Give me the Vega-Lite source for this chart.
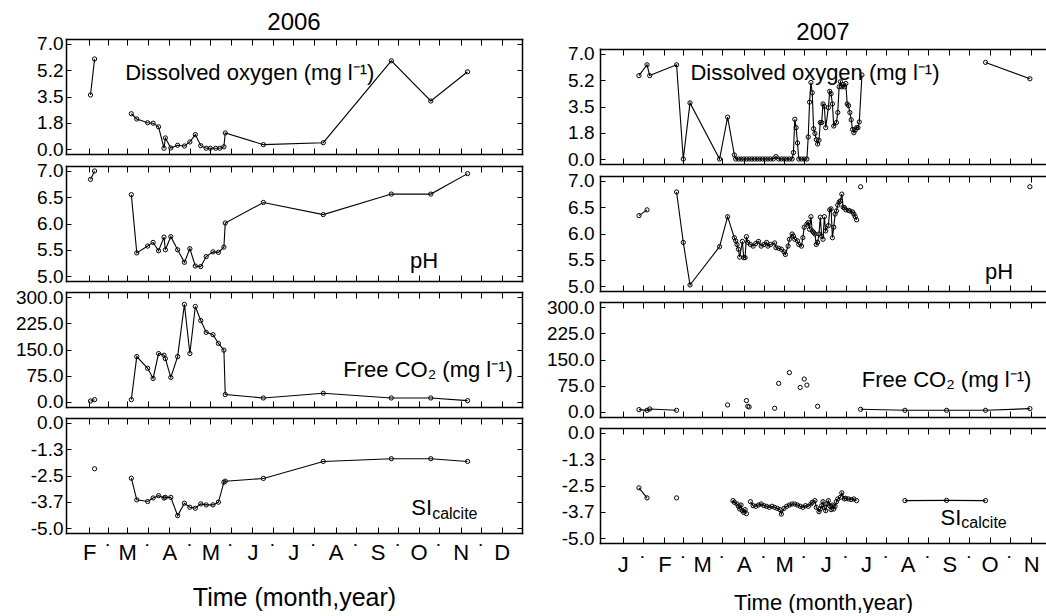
{
  "$schema": "https://vega.github.io/schema/vega-lite/v6.json",
  "padding": {"left": 15, "top": 8, "right": 0, "bottom": 0},
  "spacing": 23,
  "datasets": {
    "obs": [
      {"p":"DO06","d":"2006-02-02","v":3.6,"s":1},{"p":"DO06","d":"2006-02-05","v":6.0,"s":1},
      {"p":"DO06","d":"2006-03-04","v":2.35,"s":2},{"p":"DO06","d":"2006-03-08","v":2.0,"s":2},{"p":"DO06","d":"2006-03-16","v":1.75,"s":2},{"p":"DO06","d":"2006-03-20","v":1.72,"s":2},{"p":"DO06","d":"2006-03-24","v":1.48,"s":2},{"p":"DO06","d":"2006-03-28","v":0.05,"s":2},{"p":"DO06","d":"2006-03-29","v":0.74,"s":2},{"p":"DO06","d":"2006-04-02","v":0.07,"s":2},{"p":"DO06","d":"2006-04-07","v":0.25,"s":2},{"p":"DO06","d":"2006-04-12","v":0.2,"s":2},{"p":"DO06","d":"2006-04-16","v":0.47,"s":2},{"p":"DO06","d":"2006-04-20","v":0.96,"s":2},{"p":"DO06","d":"2006-04-24","v":0.22,"s":2},{"p":"DO06","d":"2006-04-28","v":0.05,"s":2},{"p":"DO06","d":"2006-05-01","v":0.05,"s":2},{"p":"DO06","d":"2006-05-05","v":0.05,"s":2},{"p":"DO06","d":"2006-05-08","v":0.05,"s":2},{"p":"DO06","d":"2006-05-11","v":0.15,"s":2},{"p":"DO06","d":"2006-05-12","v":1.07,"s":2},{"p":"DO06","d":"2006-06-09","v":0.29,"s":2},{"p":"DO06","d":"2006-07-23","v":0.42,"s":2},{"p":"DO06","d":"2006-09-11","v":5.88,"s":2},{"p":"DO06","d":"2006-10-10","v":3.2,"s":2},{"p":"DO06","d":"2006-11-06","v":5.15,"s":2},

      {"p":"pH06","d":"2006-02-02","v":6.84,"s":1},{"p":"pH06","d":"2006-02-05","v":7.0,"s":1},
      {"p":"pH06","d":"2006-03-04","v":6.55,"s":2},{"p":"pH06","d":"2006-03-08","v":5.44,"s":2},{"p":"pH06","d":"2006-03-16","v":5.57,"s":2},{"p":"pH06","d":"2006-03-20","v":5.64,"s":2},{"p":"pH06","d":"2006-03-24","v":5.48,"s":2},{"p":"pH06","d":"2006-03-28","v":5.74,"s":2},{"p":"pH06","d":"2006-03-29","v":5.5,"s":2},{"p":"pH06","d":"2006-04-02","v":5.75,"s":2},{"p":"pH06","d":"2006-04-07","v":5.5,"s":2},{"p":"pH06","d":"2006-04-12","v":5.26,"s":2},{"p":"pH06","d":"2006-04-16","v":5.52,"s":2},{"p":"pH06","d":"2006-04-20","v":5.19,"s":2},{"p":"pH06","d":"2006-04-24","v":5.18,"s":2},{"p":"pH06","d":"2006-04-28","v":5.37,"s":2},{"p":"pH06","d":"2006-05-03","v":5.46,"s":2},{"p":"pH06","d":"2006-05-07","v":5.45,"s":2},{"p":"pH06","d":"2006-05-11","v":5.55,"s":2},{"p":"pH06","d":"2006-05-12","v":6.01,"s":2},{"p":"pH06","d":"2006-06-09","v":6.4,"s":2},{"p":"pH06","d":"2006-07-23","v":6.17,"s":2},{"p":"pH06","d":"2006-09-11","v":6.56,"s":2},{"p":"pH06","d":"2006-10-10","v":6.56,"s":2},{"p":"pH06","d":"2006-11-06","v":6.95,"s":2},

      {"p":"CO06","d":"2006-02-02","v":2.9,"s":1},{"p":"CO06","d":"2006-02-05","v":6.7,"s":1},
      {"p":"CO06","d":"2006-03-04","v":6.7,"s":2},{"p":"CO06","d":"2006-03-08","v":129.8,"s":2},{"p":"CO06","d":"2006-03-16","v":96.2,"s":2},{"p":"CO06","d":"2006-03-20","v":67.3,"s":2},{"p":"CO06","d":"2006-03-24","v":138.5,"s":2},{"p":"CO06","d":"2006-03-28","v":133.7,"s":2},{"p":"CO06","d":"2006-03-29","v":124.0,"s":2},{"p":"CO06","d":"2006-04-02","v":70.2,"s":2},{"p":"CO06","d":"2006-04-07","v":129.8,"s":2},{"p":"CO06","d":"2006-04-12","v":278.8,"s":2},{"p":"CO06","d":"2006-04-16","v":138.5,"s":2},{"p":"CO06","d":"2006-04-20","v":273.0,"s":2},{"p":"CO06","d":"2006-04-24","v":232.7,"s":2},{"p":"CO06","d":"2006-04-28","v":199.0,"s":2},{"p":"CO06","d":"2006-05-03","v":192.3,"s":2},{"p":"CO06","d":"2006-05-07","v":167.3,"s":2},{"p":"CO06","d":"2006-05-11","v":148.1,"s":2},{"p":"CO06","d":"2006-05-12","v":21.2,"s":2},{"p":"CO06","d":"2006-06-09","v":11.5,"s":2},{"p":"CO06","d":"2006-07-23","v":25.0,"s":2},{"p":"CO06","d":"2006-09-11","v":11.5,"s":2},{"p":"CO06","d":"2006-10-10","v":11.5,"s":2},{"p":"CO06","d":"2006-11-06","v":3.8,"s":2},

      {"p":"SI06","d":"2006-02-05","v":-2.18,"s":1},
      {"p":"SI06","d":"2006-03-04","v":-2.63,"s":2},{"p":"SI06","d":"2006-03-08","v":-3.66,"s":2},{"p":"SI06","d":"2006-03-16","v":-3.74,"s":2},{"p":"SI06","d":"2006-03-20","v":-3.57,"s":2},{"p":"SI06","d":"2006-03-24","v":-3.46,"s":2},{"p":"SI06","d":"2006-03-28","v":-3.57,"s":2},{"p":"SI06","d":"2006-03-29","v":-3.54,"s":2},{"p":"SI06","d":"2006-04-02","v":-3.54,"s":2},{"p":"SI06","d":"2006-04-07","v":-4.41,"s":2},{"p":"SI06","d":"2006-04-12","v":-3.82,"s":2},{"p":"SI06","d":"2006-04-16","v":-4.01,"s":2},{"p":"SI06","d":"2006-04-20","v":-4.06,"s":2},{"p":"SI06","d":"2006-04-24","v":-3.85,"s":2},{"p":"SI06","d":"2006-04-28","v":-3.9,"s":2},{"p":"SI06","d":"2006-05-03","v":-3.9,"s":2},{"p":"SI06","d":"2006-05-07","v":-3.77,"s":2},{"p":"SI06","d":"2006-05-11","v":-2.82,"s":2},{"p":"SI06","d":"2006-05-12","v":-2.77,"s":2},{"p":"SI06","d":"2006-06-09","v":-2.64,"s":2},{"p":"SI06","d":"2006-07-23","v":-1.83,"s":2},{"p":"SI06","d":"2006-09-11","v":-1.7,"s":2},{"p":"SI06","d":"2006-10-10","v":-1.7,"s":2},{"p":"SI06","d":"2006-11-06","v":-1.83,"s":2},

      {"p":"DO07","d":"2007-01-13","v":5.56,"s":1},{"p":"DO07","d":"2007-01-19","v":6.28,"s":1},{"p":"DO07","d":"2007-01-21","v":5.56,"s":1},{"p":"DO07","d":"2007-02-10","v":6.28,"s":1},{"p":"DO07","d":"2007-02-15","v":0,"s":1},{"p":"DO07","d":"2007-02-20","v":3.74,"s":1},{"p":"DO07","d":"2007-03-14","v":0,"s":1},{"p":"DO07","d":"2007-03-20","v":2.79,"s":1},{"p":"DO07","d":"2007-03-25","v":0.27,"s":1},
      {"p":"DO07","d":"2007-03-26","v":0,"s":1},{"p":"DO07","d":"2007-03-28","v":0,"s":1},{"p":"DO07","d":"2007-03-30","v":0,"s":1},{"p":"DO07","d":"2007-04-01","v":0,"s":1},{"p":"DO07","d":"2007-04-03","v":0,"s":1},{"p":"DO07","d":"2007-04-05","v":0,"s":1},{"p":"DO07","d":"2007-04-07","v":0,"s":1},{"p":"DO07","d":"2007-04-09","v":0,"s":1},{"p":"DO07","d":"2007-04-11","v":0,"s":1},{"p":"DO07","d":"2007-04-13","v":0,"s":1},{"p":"DO07","d":"2007-04-15","v":0,"s":1},{"p":"DO07","d":"2007-04-17","v":0,"s":1},{"p":"DO07","d":"2007-04-19","v":0,"s":1},{"p":"DO07","d":"2007-04-21","v":0,"s":1},{"p":"DO07","d":"2007-04-23","v":0,"s":1},{"p":"DO07","d":"2007-04-25","v":0.16,"s":1},{"p":"DO07","d":"2007-04-27","v":0,"s":1},{"p":"DO07","d":"2007-04-29","v":0,"s":1},{"p":"DO07","d":"2007-05-01","v":0,"s":1},{"p":"DO07","d":"2007-05-03","v":0,"s":1},{"p":"DO07","d":"2007-05-05","v":0,"s":1},{"p":"DO07","d":"2007-05-07","v":0,"s":1},
      {"p":"DO07","d":"2007-05-08","v":0.43,"s":1},{"p":"DO07","d":"2007-05-09","v":2.65,"s":1},{"p":"DO07","d":"2007-05-10","v":2.09,"s":1},{"p":"DO07","d":"2007-05-11","v":1.07,"s":1},{"p":"DO07","d":"2007-05-12","v":0,"s":1},{"p":"DO07","d":"2007-05-14","v":0,"s":1},{"p":"DO07","d":"2007-05-16","v":0,"s":1},{"p":"DO07","d":"2007-05-18","v":0,"s":1},
      {"p":"DO07","d":"2007-05-19","v":1.47,"s":1},{"p":"DO07","d":"2007-05-20","v":3.79,"s":1},{"p":"DO07","d":"2007-05-21","v":5.1,"s":1},{"p":"DO07","d":"2007-05-22","v":4.42,"s":1},{"p":"DO07","d":"2007-05-23","v":2.02,"s":1},{"p":"DO07","d":"2007-05-24","v":1.7,"s":1},{"p":"DO07","d":"2007-05-25","v":1.29,"s":1},{"p":"DO07","d":"2007-05-26","v":1.0,"s":1},{"p":"DO07","d":"2007-05-27","v":1.25,"s":1},{"p":"DO07","d":"2007-05-28","v":2.43,"s":1},{"p":"DO07","d":"2007-05-29","v":2.43,"s":1},{"p":"DO07","d":"2007-05-30","v":3.67,"s":1},{"p":"DO07","d":"2007-05-31","v":3.51,"s":1},
      {"p":"DO07","d":"2007-06-01","v":2.09,"s":1},{"p":"DO07","d":"2007-06-03","v":3.42,"s":1},{"p":"DO07","d":"2007-06-04","v":4.51,"s":1},{"p":"DO07","d":"2007-06-05","v":4.35,"s":1},{"p":"DO07","d":"2007-06-06","v":3.67,"s":1},{"p":"DO07","d":"2007-06-07","v":2.2,"s":1},{"p":"DO07","d":"2007-06-09","v":2.43,"s":1},{"p":"DO07","d":"2007-06-10","v":3.1,"s":1},{"p":"DO07","d":"2007-06-11","v":4.81,"s":1},{"p":"DO07","d":"2007-06-12","v":5.15,"s":1},{"p":"DO07","d":"2007-06-13","v":4.81,"s":1},{"p":"DO07","d":"2007-06-14","v":4.97,"s":1},{"p":"DO07","d":"2007-06-15","v":4.81,"s":1},{"p":"DO07","d":"2007-06-16","v":5.03,"s":1},{"p":"DO07","d":"2007-06-17","v":3.67,"s":1},{"p":"DO07","d":"2007-06-18","v":3.56,"s":1},{"p":"DO07","d":"2007-06-19","v":3.1,"s":1},{"p":"DO07","d":"2007-06-20","v":2.61,"s":1},{"p":"DO07","d":"2007-06-21","v":1.97,"s":1},{"p":"DO07","d":"2007-06-22","v":1.75,"s":1},{"p":"DO07","d":"2007-06-23","v":1.93,"s":1},{"p":"DO07","d":"2007-06-24","v":2.09,"s":1},{"p":"DO07","d":"2007-06-25","v":2.09,"s":1},{"p":"DO07","d":"2007-06-26","v":2.47,"s":1},{"p":"DO07","d":"2007-06-28","v":5.6,"s":1},
      {"p":"DO07","d":"2007-09-28","v":6.44,"s":2},{"p":"DO07","d":"2007-10-31","v":5.35,"s":2},

      {"p":"pH07","d":"2007-01-13","v":6.34,"s":1},{"p":"pH07","d":"2007-01-19","v":6.45,"s":1},
      {"p":"pH07","d":"2007-02-10","v":6.79,"s":2},{"p":"pH07","d":"2007-02-15","v":5.83,"s":2},{"p":"pH07","d":"2007-02-20","v":5.02,"s":2},{"p":"pH07","d":"2007-03-14","v":5.75,"s":2},{"p":"pH07","d":"2007-03-20","v":6.32,"s":2},
      {"p":"pH07","d":"2007-03-25","v":5.92,"s":2},{"p":"pH07","d":"2007-03-26","v":5.86,"s":2},{"p":"pH07","d":"2007-03-27","v":5.79,"s":2},{"p":"pH07","d":"2007-03-28","v":5.7,"s":2},{"p":"pH07","d":"2007-03-29","v":5.55,"s":2},{"p":"pH07","d":"2007-03-31","v":5.85,"s":2},{"p":"pH07","d":"2007-04-01","v":5.54,"s":2},{"p":"pH07","d":"2007-04-02","v":5.54,"s":2},{"p":"pH07","d":"2007-04-03","v":5.94,"s":2},{"p":"pH07","d":"2007-04-04","v":5.83,"s":2},{"p":"pH07","d":"2007-04-06","v":5.79,"s":2},{"p":"pH07","d":"2007-04-08","v":5.76,"s":2},{"p":"pH07","d":"2007-04-10","v":5.81,"s":2},{"p":"pH07","d":"2007-04-12","v":5.85,"s":2},{"p":"pH07","d":"2007-04-14","v":5.76,"s":2},{"p":"pH07","d":"2007-04-16","v":5.79,"s":2},{"p":"pH07","d":"2007-04-18","v":5.83,"s":2},{"p":"pH07","d":"2007-04-19","v":5.76,"s":2},{"p":"pH07","d":"2007-04-21","v":5.79,"s":2},{"p":"pH07","d":"2007-04-24","v":5.82,"s":2},{"p":"pH07","d":"2007-04-25","v":5.73,"s":2},{"p":"pH07","d":"2007-04-27","v":5.72,"s":2},{"p":"pH07","d":"2007-04-29","v":5.7,"s":2},
      {"p":"pH07","d":"2007-05-01","v":5.65,"s":2},{"p":"pH07","d":"2007-05-02","v":5.6,"s":2},{"p":"pH07","d":"2007-05-04","v":5.76,"s":2},{"p":"pH07","d":"2007-05-05","v":5.89,"s":2},{"p":"pH07","d":"2007-05-07","v":5.99,"s":2},{"p":"pH07","d":"2007-05-08","v":5.95,"s":2},{"p":"pH07","d":"2007-05-09","v":5.89,"s":2},{"p":"pH07","d":"2007-05-11","v":5.86,"s":2},{"p":"pH07","d":"2007-05-12","v":5.79,"s":2},{"p":"pH07","d":"2007-05-14","v":5.76,"s":2},{"p":"pH07","d":"2007-05-15","v":5.92,"s":2},{"p":"pH07","d":"2007-05-16","v":6.12,"s":2},{"p":"pH07","d":"2007-05-18","v":6.18,"s":2},{"p":"pH07","d":"2007-05-19","v":6.21,"s":2},{"p":"pH07","d":"2007-05-20","v":6.08,"s":2},{"p":"pH07","d":"2007-05-21","v":6.32,"s":2},{"p":"pH07","d":"2007-05-22","v":6.05,"s":2},{"p":"pH07","d":"2007-05-23","v":6.02,"s":2},{"p":"pH07","d":"2007-05-24","v":5.99,"s":2},{"p":"pH07","d":"2007-05-25","v":5.79,"s":2},{"p":"pH07","d":"2007-05-26","v":5.83,"s":2},{"p":"pH07","d":"2007-05-27","v":5.99,"s":2},{"p":"pH07","d":"2007-05-28","v":6.31,"s":2},{"p":"pH07","d":"2007-05-29","v":5.95,"s":2},{"p":"pH07","d":"2007-05-30","v":5.89,"s":2},{"p":"pH07","d":"2007-05-31","v":6.32,"s":2},
      {"p":"pH07","d":"2007-06-01","v":6.05,"s":2},{"p":"pH07","d":"2007-06-03","v":6.15,"s":2},{"p":"pH07","d":"2007-06-04","v":6.45,"s":2},{"p":"pH07","d":"2007-06-05","v":6.47,"s":2},{"p":"pH07","d":"2007-06-06","v":5.92,"s":2},{"p":"pH07","d":"2007-06-07","v":6.12,"s":2},{"p":"pH07","d":"2007-06-08","v":6.37,"s":2},{"p":"pH07","d":"2007-06-09","v":6.43,"s":2},{"p":"pH07","d":"2007-06-10","v":6.54,"s":2},{"p":"pH07","d":"2007-06-11","v":6.6,"s":2},{"p":"pH07","d":"2007-06-12","v":6.62,"s":2},{"p":"pH07","d":"2007-06-13","v":6.75,"s":2},{"p":"pH07","d":"2007-06-14","v":6.5,"s":2},{"p":"pH07","d":"2007-06-15","v":6.49,"s":2},{"p":"pH07","d":"2007-06-16","v":6.45,"s":2},{"p":"pH07","d":"2007-06-18","v":6.44,"s":2},{"p":"pH07","d":"2007-06-19","v":6.43,"s":2},{"p":"pH07","d":"2007-06-21","v":6.41,"s":2},{"p":"pH07","d":"2007-06-22","v":6.37,"s":2},{"p":"pH07","d":"2007-06-23","v":6.32,"s":2},{"p":"pH07","d":"2007-06-24","v":6.26,"s":2},
      {"p":"pH07","d":"2007-06-27","v":6.89,"s":3},
      {"p":"pH07","d":"2007-10-31","v":6.89,"s":4},

      {"p":"CO07","d":"2007-01-13","v":6.7,"s":1},{"p":"CO07","d":"2007-01-19","v":4.8,"s":1},{"p":"CO07","d":"2007-01-21","v":8.7,"s":1},{"p":"CO07","d":"2007-02-10","v":4.8,"s":1},
      {"p":"CO07","d":"2007-03-20","v":20.2,"s":10},{"p":"CO07","d":"2007-04-03","v":32.7,"s":11},{"p":"CO07","d":"2007-04-04","v":16.3,"s":12},{"p":"CO07","d":"2007-04-05","v":14.4,"s":13},{"p":"CO07","d":"2007-04-24","v":10.6,"s":14},{"p":"CO07","d":"2007-04-27","v":81.7,"s":15},{"p":"CO07","d":"2007-05-05","v":112.5,"s":16},{"p":"CO07","d":"2007-05-13","v":70.2,"s":17},{"p":"CO07","d":"2007-05-16","v":94.2,"s":18},{"p":"CO07","d":"2007-05-18","v":76.9,"s":19},{"p":"CO07","d":"2007-05-26","v":16.3,"s":20},
      {"p":"CO07","d":"2007-06-27","v":7.7,"s":2},{"p":"CO07","d":"2007-07-30","v":4.8,"s":2},{"p":"CO07","d":"2007-08-30","v":4.8,"s":2},{"p":"CO07","d":"2007-09-28","v":4.8,"s":2},{"p":"CO07","d":"2007-10-31","v":9.6,"s":2},

      {"p":"SI07","d":"2007-01-13","v":-2.61,"s":1},{"p":"SI07","d":"2007-01-19","v":-3.09,"s":1},
      {"p":"SI07","d":"2007-02-10","v":-3.09,"s":2},
      {"p":"SI07","d":"2007-03-24","v":-3.22,"s":3},{"p":"SI07","d":"2007-03-25","v":-3.3,"s":3},{"p":"SI07","d":"2007-03-27","v":-3.38,"s":3},{"p":"SI07","d":"2007-03-28","v":-3.49,"s":3},{"p":"SI07","d":"2007-03-29","v":-3.62,"s":3},{"p":"SI07","d":"2007-03-30","v":-3.43,"s":3},{"p":"SI07","d":"2007-03-31","v":-3.7,"s":3},{"p":"SI07","d":"2007-04-01","v":-3.78,"s":3},{"p":"SI07","d":"2007-04-02","v":-3.65,"s":3},{"p":"SI07","d":"2007-04-03","v":-3.84,"s":3},
      {"p":"SI07","d":"2007-04-06","v":-3.27,"s":4},{"p":"SI07","d":"2007-04-08","v":-3.46,"s":4},{"p":"SI07","d":"2007-04-10","v":-3.49,"s":4},{"p":"SI07","d":"2007-04-12","v":-3.43,"s":4},{"p":"SI07","d":"2007-04-14","v":-3.38,"s":4},{"p":"SI07","d":"2007-04-16","v":-3.46,"s":4},{"p":"SI07","d":"2007-04-18","v":-3.49,"s":4},{"p":"SI07","d":"2007-04-20","v":-3.54,"s":4},{"p":"SI07","d":"2007-04-22","v":-3.49,"s":4},{"p":"SI07","d":"2007-04-24","v":-3.54,"s":4},{"p":"SI07","d":"2007-04-26","v":-3.59,"s":4},{"p":"SI07","d":"2007-04-28","v":-3.65,"s":4},{"p":"SI07","d":"2007-04-29","v":-3.86,"s":4},
      {"p":"SI07","d":"2007-05-01","v":-3.59,"s":4},{"p":"SI07","d":"2007-05-03","v":-3.49,"s":4},{"p":"SI07","d":"2007-05-05","v":-3.43,"s":4},{"p":"SI07","d":"2007-05-07","v":-3.38,"s":4},{"p":"SI07","d":"2007-05-09","v":-3.38,"s":4},{"p":"SI07","d":"2007-05-11","v":-3.43,"s":4},{"p":"SI07","d":"2007-05-13","v":-3.49,"s":4},{"p":"SI07","d":"2007-05-15","v":-3.54,"s":4},{"p":"SI07","d":"2007-05-17","v":-3.46,"s":4},{"p":"SI07","d":"2007-05-19","v":-3.49,"s":4},{"p":"SI07","d":"2007-05-21","v":-3.38,"s":4},{"p":"SI07","d":"2007-05-22","v":-3.3,"s":4},{"p":"SI07","d":"2007-05-24","v":-3.22,"s":4},{"p":"SI07","d":"2007-05-25","v":-3.54,"s":4},{"p":"SI07","d":"2007-05-27","v":-3.75,"s":4},{"p":"SI07","d":"2007-05-28","v":-3.62,"s":4},{"p":"SI07","d":"2007-05-29","v":-3.46,"s":4},{"p":"SI07","d":"2007-05-30","v":-3.27,"s":4},{"p":"SI07","d":"2007-05-31","v":-3.54,"s":4},
      {"p":"SI07","d":"2007-06-01","v":-3.7,"s":4},{"p":"SI07","d":"2007-06-02","v":-3.38,"s":4},{"p":"SI07","d":"2007-06-03","v":-3.22,"s":4},{"p":"SI07","d":"2007-06-04","v":-3.46,"s":4},{"p":"SI07","d":"2007-06-05","v":-3.65,"s":4},{"p":"SI07","d":"2007-06-06","v":-3.43,"s":4},{"p":"SI07","d":"2007-06-07","v":-3.62,"s":4},{"p":"SI07","d":"2007-06-08","v":-3.49,"s":4},{"p":"SI07","d":"2007-06-09","v":-3.27,"s":4},{"p":"SI07","d":"2007-06-10","v":-3.14,"s":4},{"p":"SI07","d":"2007-06-12","v":-3.06,"s":4},{"p":"SI07","d":"2007-06-13","v":-2.85,"s":4},{"p":"SI07","d":"2007-06-15","v":-3.14,"s":4},{"p":"SI07","d":"2007-06-16","v":-3.11,"s":4},{"p":"SI07","d":"2007-06-18","v":-3.14,"s":4},{"p":"SI07","d":"2007-06-20","v":-3.17,"s":4},{"p":"SI07","d":"2007-06-22","v":-3.14,"s":4},{"p":"SI07","d":"2007-06-24","v":-3.22,"s":4},
      {"p":"SI07","d":"2007-07-30","v":-3.22,"s":5},{"p":"SI07","d":"2007-08-30","v":-3.21,"s":5},{"p":"SI07","d":"2007-09-28","v":-3.22,"s":5}
    ],
    "notes": [
      {"p":"DO06","d":"2006-05-30","v":5.06,"t":"Dissolved oxygen (mg l⁻¹)"},
      {"p":"pH06","d":"2006-10-05","v":5.29,"t":"pH"},
      {"p":"CO06","d":"2006-10-08","v":91.5,"t":"Free CO₂ (mg l⁻¹)"},
      {"p":"SI06","d":"2006-10-11","v":-4.37,"t":"SI"},
      {"p":"SIsub06","d":"2006-10-11","v":-4.56,"t":"calcite"},
      {"p":"DO07","d":"2007-05-24","v":5.75,"t":"Dissolved oxygen (mg l⁻¹)"},
      {"p":"pH07","d":"2007-10-08","v":5.27,"t":"pH"},
      {"p":"CO07","d":"2007-08-30","v":91.4,"t":"Free CO₂ (mg l⁻¹)"},
      {"p":"SI07","d":"2007-09-10","v":-4.36,"t":"SI"},
      {"p":"SIsub07","d":"2007-09-10","v":-4.5,"t":"calcite"}
    ]
  },
  "hconcat": [
    {
      "spacing": 1,
      "vconcat": [
        {"width": 456, "height": 1, "data": {"values": []}, "mark": "point"},
        {
          "width": 456, "height": 115,
          "title": {"text": "2006", "fontSize": 24, "offset": 0},
          "layer": [
            {"data": {"name": "obs"}, "transform": [{"filter": "datum.p=='DO06'"}],
             "mark": {"type": "line", "color": "black", "strokeWidth": 1.1},
             "encoding": {
               "x": {"field": "d", "type": "temporal",
                     "scale": {"type": "utc", "nice": false, "domain": [{"year":2006,"month":1,"date":15,"utc":true},{"year":2006,"month":12,"date":16,"utc":true}]},
                     "axis": {"orient": "bottom", "tickSize": -6, "labels": false, "title": null,
                              "values": [{"year":2006,"month":2,"date":1,"utc":true},{"year":2006,"month":2,"date":15,"utc":true},{"year":2006,"month":3,"date":1,"utc":true},{"year":2006,"month":3,"date":16,"utc":true},{"year":2006,"month":4,"date":1,"utc":true},{"year":2006,"month":4,"date":16,"utc":true},{"year":2006,"month":5,"date":1,"utc":true},{"year":2006,"month":5,"date":16,"utc":true},{"year":2006,"month":6,"date":1,"utc":true},{"year":2006,"month":6,"date":16,"utc":true},{"year":2006,"month":7,"date":1,"utc":true},{"year":2006,"month":7,"date":16,"utc":true},{"year":2006,"month":8,"date":1,"utc":true},{"year":2006,"month":8,"date":16,"utc":true},{"year":2006,"month":9,"date":1,"utc":true},{"year":2006,"month":9,"date":16,"utc":true},{"year":2006,"month":10,"date":1,"utc":true},{"year":2006,"month":10,"date":16,"utc":true},{"year":2006,"month":11,"date":1,"utc":true},{"year":2006,"month":11,"date":16,"utc":true},{"year":2006,"month":12,"date":1,"utc":true}]}},
               "y": {"field": "v", "type": "quantitative",
                     "scale": {"domain": [-0.333, 7.333], "nice": false, "zero": false},
                     "axis": {"orient": "left", "values": [0, 1.75, 3.5, 5.25, 7], "tickSize": -5, "labelPadding": 8, "title": null,
                              "labelExpr": "datum.value==5.25?'5.2':datum.value==1.75?'1.8':format(datum.value,'.1f')"}},
               "detail": {"field": "s", "type": "nominal"}
             }},
            {"data": {"name": "obs"}, "transform": [{"filter": "datum.p=='DO06'"}],
             "mark": {"type": "point", "shape": "circle", "filled": false, "color": "black", "size": 18, "strokeWidth": 1, "opacity": 1},
             "encoding": {
               "x": {"field": "d", "type": "temporal",
                     "axis": {"orient": "top", "tickSize": -6, "labels": false, "title": null,
                              "values": [{"year":2006,"month":2,"date":1,"utc":true},{"year":2006,"month":2,"date":15,"utc":true},{"year":2006,"month":3,"date":1,"utc":true},{"year":2006,"month":3,"date":16,"utc":true},{"year":2006,"month":4,"date":1,"utc":true},{"year":2006,"month":4,"date":16,"utc":true},{"year":2006,"month":5,"date":1,"utc":true},{"year":2006,"month":5,"date":16,"utc":true},{"year":2006,"month":6,"date":1,"utc":true},{"year":2006,"month":6,"date":16,"utc":true},{"year":2006,"month":7,"date":1,"utc":true},{"year":2006,"month":7,"date":16,"utc":true},{"year":2006,"month":8,"date":1,"utc":true},{"year":2006,"month":8,"date":16,"utc":true},{"year":2006,"month":9,"date":1,"utc":true},{"year":2006,"month":9,"date":16,"utc":true},{"year":2006,"month":10,"date":1,"utc":true},{"year":2006,"month":10,"date":16,"utc":true},{"year":2006,"month":11,"date":1,"utc":true},{"year":2006,"month":11,"date":16,"utc":true},{"year":2006,"month":12,"date":1,"utc":true}]}},
               "y": {"field": "v", "type": "quantitative",
                     "axis": {"orient": "right", "values": [0, 1.75, 3.5, 5.25, 7], "tickSize": -5, "labels": false, "title": null}}
             }},
            {"data": {"name": "notes"}, "transform": [{"filter": "datum.p=='DO06'"}],
             "mark": {"type": "text", "fontSize": 22, "align": "center", "baseline": "middle", "color": "black"},
             "encoding": {"x": {"field": "d", "type": "temporal", "axis": null}, "y": {"field": "v", "type": "quantitative", "axis": null}, "text": {"field": "t"}}}
          ]
        },
        {
          "width": 456, "height": 115,
          "layer": [
            {"data": {"name": "obs"}, "transform": [{"filter": "datum.p=='pH06'"}],
             "mark": {"type": "line", "color": "black", "strokeWidth": 1.1},
             "encoding": {
               "x": {"field": "d", "type": "temporal",
                     "scale": {"type": "utc", "nice": false, "domain": [{"year":2006,"month":1,"date":15,"utc":true},{"year":2006,"month":12,"date":16,"utc":true}]},
                     "axis": {"orient": "bottom", "tickSize": -6, "labels": false, "title": null,
                              "values": [{"year":2006,"month":2,"date":1,"utc":true},{"year":2006,"month":2,"date":15,"utc":true},{"year":2006,"month":3,"date":1,"utc":true},{"year":2006,"month":3,"date":16,"utc":true},{"year":2006,"month":4,"date":1,"utc":true},{"year":2006,"month":4,"date":16,"utc":true},{"year":2006,"month":5,"date":1,"utc":true},{"year":2006,"month":5,"date":16,"utc":true},{"year":2006,"month":6,"date":1,"utc":true},{"year":2006,"month":6,"date":16,"utc":true},{"year":2006,"month":7,"date":1,"utc":true},{"year":2006,"month":7,"date":16,"utc":true},{"year":2006,"month":8,"date":1,"utc":true},{"year":2006,"month":8,"date":16,"utc":true},{"year":2006,"month":9,"date":1,"utc":true},{"year":2006,"month":9,"date":16,"utc":true},{"year":2006,"month":10,"date":1,"utc":true},{"year":2006,"month":10,"date":16,"utc":true},{"year":2006,"month":11,"date":1,"utc":true},{"year":2006,"month":11,"date":16,"utc":true},{"year":2006,"month":12,"date":1,"utc":true}]}},
               "y": {"field": "v", "type": "quantitative",
                     "scale": {"domain": [4.905, 7.095], "nice": false, "zero": false},
                     "axis": {"orient": "left", "values": [5, 5.5, 6, 6.5, 7], "tickSize": -5, "labelPadding": 8, "title": null, "labelExpr": "format(datum.value,'.1f')"}},
               "detail": {"field": "s", "type": "nominal"}
             }},
            {"data": {"name": "obs"}, "transform": [{"filter": "datum.p=='pH06'"}],
             "mark": {"type": "point", "shape": "circle", "filled": false, "color": "black", "size": 18, "strokeWidth": 1, "opacity": 1},
             "encoding": {
               "x": {"field": "d", "type": "temporal",
                     "axis": {"orient": "top", "tickSize": -6, "labels": false, "title": null,
                              "values": [{"year":2006,"month":2,"date":1,"utc":true},{"year":2006,"month":2,"date":15,"utc":true},{"year":2006,"month":3,"date":1,"utc":true},{"year":2006,"month":3,"date":16,"utc":true},{"year":2006,"month":4,"date":1,"utc":true},{"year":2006,"month":4,"date":16,"utc":true},{"year":2006,"month":5,"date":1,"utc":true},{"year":2006,"month":5,"date":16,"utc":true},{"year":2006,"month":6,"date":1,"utc":true},{"year":2006,"month":6,"date":16,"utc":true},{"year":2006,"month":7,"date":1,"utc":true},{"year":2006,"month":7,"date":16,"utc":true},{"year":2006,"month":8,"date":1,"utc":true},{"year":2006,"month":8,"date":16,"utc":true},{"year":2006,"month":9,"date":1,"utc":true},{"year":2006,"month":9,"date":16,"utc":true},{"year":2006,"month":10,"date":1,"utc":true},{"year":2006,"month":10,"date":16,"utc":true},{"year":2006,"month":11,"date":1,"utc":true},{"year":2006,"month":11,"date":16,"utc":true},{"year":2006,"month":12,"date":1,"utc":true}]}},
               "y": {"field": "v", "type": "quantitative",
                     "axis": {"orient": "right", "values": [5, 5.5, 6, 6.5, 7], "tickSize": -5, "labels": false, "title": null}}
             }},
            {"data": {"name": "notes"}, "transform": [{"filter": "datum.p=='pH06'"}],
             "mark": {"type": "text", "fontSize": 22, "align": "center", "baseline": "middle", "color": "black"},
             "encoding": {"x": {"field": "d", "type": "temporal", "axis": null}, "y": {"field": "v", "type": "quantitative", "axis": null}, "text": {"field": "t"}}}
          ]
        },
        {
          "width": 456, "height": 115,
          "layer": [
            {"data": {"name": "obs"}, "transform": [{"filter": "datum.p=='CO06'"}],
             "mark": {"type": "line", "color": "black", "strokeWidth": 1.1},
             "encoding": {
               "x": {"field": "d", "type": "temporal",
                     "scale": {"type": "utc", "nice": false, "domain": [{"year":2006,"month":1,"date":15,"utc":true},{"year":2006,"month":12,"date":16,"utc":true}]},
                     "axis": {"orient": "bottom", "tickSize": -6, "labels": false, "title": null,
                              "values": [{"year":2006,"month":2,"date":1,"utc":true},{"year":2006,"month":2,"date":15,"utc":true},{"year":2006,"month":3,"date":1,"utc":true},{"year":2006,"month":3,"date":16,"utc":true},{"year":2006,"month":4,"date":1,"utc":true},{"year":2006,"month":4,"date":16,"utc":true},{"year":2006,"month":5,"date":1,"utc":true},{"year":2006,"month":5,"date":16,"utc":true},{"year":2006,"month":6,"date":1,"utc":true},{"year":2006,"month":6,"date":16,"utc":true},{"year":2006,"month":7,"date":1,"utc":true},{"year":2006,"month":7,"date":16,"utc":true},{"year":2006,"month":8,"date":1,"utc":true},{"year":2006,"month":8,"date":16,"utc":true},{"year":2006,"month":9,"date":1,"utc":true},{"year":2006,"month":9,"date":16,"utc":true},{"year":2006,"month":10,"date":1,"utc":true},{"year":2006,"month":10,"date":16,"utc":true},{"year":2006,"month":11,"date":1,"utc":true},{"year":2006,"month":11,"date":16,"utc":true},{"year":2006,"month":12,"date":1,"utc":true}]}},
               "y": {"field": "v", "type": "quantitative",
                     "scale": {"domain": [-14.3, 314.3], "nice": false, "zero": false},
                     "axis": {"orient": "left", "values": [0, 75, 150, 225, 300], "tickSize": -5, "labelPadding": 8, "title": null, "labelExpr": "format(datum.value,'.1f')"}},
               "detail": {"field": "s", "type": "nominal"}
             }},
            {"data": {"name": "obs"}, "transform": [{"filter": "datum.p=='CO06'"}],
             "mark": {"type": "point", "shape": "circle", "filled": false, "color": "black", "size": 18, "strokeWidth": 1, "opacity": 1},
             "encoding": {
               "x": {"field": "d", "type": "temporal",
                     "axis": {"orient": "top", "tickSize": -6, "labels": false, "title": null,
                              "values": [{"year":2006,"month":2,"date":1,"utc":true},{"year":2006,"month":2,"date":15,"utc":true},{"year":2006,"month":3,"date":1,"utc":true},{"year":2006,"month":3,"date":16,"utc":true},{"year":2006,"month":4,"date":1,"utc":true},{"year":2006,"month":4,"date":16,"utc":true},{"year":2006,"month":5,"date":1,"utc":true},{"year":2006,"month":5,"date":16,"utc":true},{"year":2006,"month":6,"date":1,"utc":true},{"year":2006,"month":6,"date":16,"utc":true},{"year":2006,"month":7,"date":1,"utc":true},{"year":2006,"month":7,"date":16,"utc":true},{"year":2006,"month":8,"date":1,"utc":true},{"year":2006,"month":8,"date":16,"utc":true},{"year":2006,"month":9,"date":1,"utc":true},{"year":2006,"month":9,"date":16,"utc":true},{"year":2006,"month":10,"date":1,"utc":true},{"year":2006,"month":10,"date":16,"utc":true},{"year":2006,"month":11,"date":1,"utc":true},{"year":2006,"month":11,"date":16,"utc":true},{"year":2006,"month":12,"date":1,"utc":true}]}},
               "y": {"field": "v", "type": "quantitative",
                     "axis": {"orient": "right", "values": [0, 75, 150, 225, 300], "tickSize": -5, "labels": false, "title": null}}
             }},
            {"data": {"name": "notes"}, "transform": [{"filter": "datum.p=='CO06'"}],
             "mark": {"type": "text", "fontSize": 22, "align": "center", "baseline": "middle", "color": "black"},
             "encoding": {"x": {"field": "d", "type": "temporal", "axis": null}, "y": {"field": "v", "type": "quantitative", "axis": null}, "text": {"field": "t"}}}
          ]
        },
        {
          "width": 456, "height": 115,
          "layer": [
            {"data": {"name": "obs"}, "transform": [{"filter": "datum.p=='SI06'"}],
             "mark": {"type": "line", "color": "black", "strokeWidth": 1.1},
             "encoding": {
               "x": {"field": "d", "type": "temporal",
                     "scale": {"type": "utc", "nice": false, "domain": [{"year":2006,"month":1,"date":15,"utc":true},{"year":2006,"month":12,"date":16,"utc":true}]},
                     "axis": {"orient": "bottom", "tickSize": -6, "labelPadding": 15, "labelFontSize": 22,
                              "labelExpr": "utcdate(datum.value)==1?substring(utcFormat(datum.value,'%b'),0,1):'˙'",
                              "title": "Time (month,year)", "titleFontSize": 25, "titlePadding": 22,
                              "values": [{"year":2006,"month":2,"date":1,"utc":true},{"year":2006,"month":2,"date":15,"utc":true},{"year":2006,"month":3,"date":1,"utc":true},{"year":2006,"month":3,"date":16,"utc":true},{"year":2006,"month":4,"date":1,"utc":true},{"year":2006,"month":4,"date":16,"utc":true},{"year":2006,"month":5,"date":1,"utc":true},{"year":2006,"month":5,"date":16,"utc":true},{"year":2006,"month":6,"date":1,"utc":true},{"year":2006,"month":6,"date":16,"utc":true},{"year":2006,"month":7,"date":1,"utc":true},{"year":2006,"month":7,"date":16,"utc":true},{"year":2006,"month":8,"date":1,"utc":true},{"year":2006,"month":8,"date":16,"utc":true},{"year":2006,"month":9,"date":1,"utc":true},{"year":2006,"month":9,"date":16,"utc":true},{"year":2006,"month":10,"date":1,"utc":true},{"year":2006,"month":10,"date":16,"utc":true},{"year":2006,"month":11,"date":1,"utc":true},{"year":2006,"month":11,"date":16,"utc":true},{"year":2006,"month":12,"date":1,"utc":true}]}},
               "y": {"field": "v", "type": "quantitative",
                     "scale": {"domain": [-5.238, 0.238], "nice": false, "zero": false},
                     "axis": {"orient": "left", "values": [0, -1.25, -2.5, -3.75, -5], "tickSize": -5, "labelPadding": 8, "title": null,
                              "labelExpr": "datum.value==0?'0.0':datum.value==-1.25?'-1.3':datum.value==-2.5?'-2.5':datum.value==-3.75?'-3.7':'-5.0'"}},
               "detail": {"field": "s", "type": "nominal"}
             }},
            {"data": {"name": "obs"}, "transform": [{"filter": "datum.p=='SI06'"}],
             "mark": {"type": "point", "shape": "circle", "filled": false, "color": "black", "size": 18, "strokeWidth": 1, "opacity": 1},
             "encoding": {
               "x": {"field": "d", "type": "temporal",
                     "axis": {"orient": "top", "tickSize": -6, "labels": false, "title": null,
                              "values": [{"year":2006,"month":2,"date":1,"utc":true},{"year":2006,"month":2,"date":15,"utc":true},{"year":2006,"month":3,"date":1,"utc":true},{"year":2006,"month":3,"date":16,"utc":true},{"year":2006,"month":4,"date":1,"utc":true},{"year":2006,"month":4,"date":16,"utc":true},{"year":2006,"month":5,"date":1,"utc":true},{"year":2006,"month":5,"date":16,"utc":true},{"year":2006,"month":6,"date":1,"utc":true},{"year":2006,"month":6,"date":16,"utc":true},{"year":2006,"month":7,"date":1,"utc":true},{"year":2006,"month":7,"date":16,"utc":true},{"year":2006,"month":8,"date":1,"utc":true},{"year":2006,"month":8,"date":16,"utc":true},{"year":2006,"month":9,"date":1,"utc":true},{"year":2006,"month":9,"date":16,"utc":true},{"year":2006,"month":10,"date":1,"utc":true},{"year":2006,"month":10,"date":16,"utc":true},{"year":2006,"month":11,"date":1,"utc":true},{"year":2006,"month":11,"date":16,"utc":true},{"year":2006,"month":12,"date":1,"utc":true}]}},
               "y": {"field": "v", "type": "quantitative",
                     "axis": {"orient": "right", "values": [0, -1.25, -2.5, -3.75, -5], "tickSize": -5, "labels": false, "title": null}}
             }},
            {"data": {"name": "notes"}, "transform": [{"filter": "datum.p=='SI06'"}],
             "mark": {"type": "text", "fontSize": 22, "align": "right", "baseline": "alphabetic", "color": "black"},
             "encoding": {"x": {"field": "d", "type": "temporal", "axis": null}, "y": {"field": "v", "type": "quantitative", "axis": null}, "text": {"field": "t"}}},
            {"data": {"name": "notes"}, "transform": [{"filter": "datum.p=='SIsub06'"}],
             "mark": {"type": "text", "fontSize": 16, "align": "left", "baseline": "alphabetic", "color": "black"},
             "encoding": {"x": {"field": "d", "type": "temporal", "axis": null}, "y": {"field": "v", "type": "quantitative", "axis": null}, "text": {"field": "t"}}}
          ]
        }
      ]
    },
    {
      "spacing": 1,
      "vconcat": [
        {"width": 446, "height": 11, "data": {"values": []}, "mark": "point"},
        {
          "width": 446, "height": 115,
          "title": {"text": "2007", "fontSize": 24, "offset": 0},
          "layer": [
            {"data": {"name": "obs"}, "transform": [{"filter": "datum.p=='DO07'"}],
             "mark": {"type": "line", "color": "black", "strokeWidth": 1.1},
             "encoding": {
               "x": {"field": "d", "type": "temporal",
                     "scale": {"type": "utc", "nice": false, "domain": [{"year":2006,"month":12,"date":15,"utc":true},{"year":2007,"month":11,"date":12,"utc":true}]},
                     "axis": {"orient": "bottom", "tickSize": -6, "labels": false, "title": null,
                              "values": [{"year":2007,"month":1,"date":1,"utc":true},{"year":2007,"month":1,"date":16,"utc":true},{"year":2007,"month":2,"date":1,"utc":true},{"year":2007,"month":2,"date":15,"utc":true},{"year":2007,"month":3,"date":1,"utc":true},{"year":2007,"month":3,"date":16,"utc":true},{"year":2007,"month":4,"date":1,"utc":true},{"year":2007,"month":4,"date":16,"utc":true},{"year":2007,"month":5,"date":1,"utc":true},{"year":2007,"month":5,"date":16,"utc":true},{"year":2007,"month":6,"date":1,"utc":true},{"year":2007,"month":6,"date":16,"utc":true},{"year":2007,"month":7,"date":1,"utc":true},{"year":2007,"month":7,"date":16,"utc":true},{"year":2007,"month":8,"date":1,"utc":true},{"year":2007,"month":8,"date":16,"utc":true},{"year":2007,"month":9,"date":1,"utc":true},{"year":2007,"month":9,"date":16,"utc":true},{"year":2007,"month":10,"date":1,"utc":true},{"year":2007,"month":10,"date":16,"utc":true},{"year":2007,"month":11,"date":1,"utc":true}]}},
               "y": {"field": "v", "type": "quantitative",
                     "scale": {"domain": [-0.333, 7.333], "nice": false, "zero": false},
                     "axis": {"orient": "left", "values": [0, 1.75, 3.5, 5.25, 7], "tickSize": -5, "labelPadding": 11, "title": null,
                              "labelExpr": "datum.value==5.25?'5.2':datum.value==1.75?'1.8':format(datum.value,'.1f')"}},
               "detail": {"field": "s", "type": "nominal"}
             }},
            {"data": {"name": "obs"}, "transform": [{"filter": "datum.p=='DO07'"}],
             "mark": {"type": "point", "shape": "circle", "filled": false, "color": "black", "size": 18, "strokeWidth": 1, "opacity": 1},
             "encoding": {
               "x": {"field": "d", "type": "temporal",
                     "axis": {"orient": "top", "tickSize": -6, "labels": false, "title": null,
                              "values": [{"year":2007,"month":1,"date":1,"utc":true},{"year":2007,"month":1,"date":16,"utc":true},{"year":2007,"month":2,"date":1,"utc":true},{"year":2007,"month":2,"date":15,"utc":true},{"year":2007,"month":3,"date":1,"utc":true},{"year":2007,"month":3,"date":16,"utc":true},{"year":2007,"month":4,"date":1,"utc":true},{"year":2007,"month":4,"date":16,"utc":true},{"year":2007,"month":5,"date":1,"utc":true},{"year":2007,"month":5,"date":16,"utc":true},{"year":2007,"month":6,"date":1,"utc":true},{"year":2007,"month":6,"date":16,"utc":true},{"year":2007,"month":7,"date":1,"utc":true},{"year":2007,"month":7,"date":16,"utc":true},{"year":2007,"month":8,"date":1,"utc":true},{"year":2007,"month":8,"date":16,"utc":true},{"year":2007,"month":9,"date":1,"utc":true},{"year":2007,"month":9,"date":16,"utc":true},{"year":2007,"month":10,"date":1,"utc":true},{"year":2007,"month":10,"date":16,"utc":true},{"year":2007,"month":11,"date":1,"utc":true}]}},
               "y": {"field": "v", "type": "quantitative",
                     "axis": {"orient": "right", "domain": false, "ticks": false, "labels": false, "title": null}}
             }},
            {"data": {"name": "notes"}, "transform": [{"filter": "datum.p=='DO07'"}],
             "mark": {"type": "text", "fontSize": 22, "align": "center", "baseline": "middle", "color": "black"},
             "encoding": {"x": {"field": "d", "type": "temporal", "axis": null}, "y": {"field": "v", "type": "quantitative", "axis": null}, "text": {"field": "t"}}}
          ]
        },
        {
          "width": 446, "height": 115,
          "layer": [
            {"data": {"name": "obs"}, "transform": [{"filter": "datum.p=='pH07'"}],
             "mark": {"type": "line", "color": "black", "strokeWidth": 1.1},
             "encoding": {
               "x": {"field": "d", "type": "temporal",
                     "scale": {"type": "utc", "nice": false, "domain": [{"year":2006,"month":12,"date":15,"utc":true},{"year":2007,"month":11,"date":12,"utc":true}]},
                     "axis": {"orient": "bottom", "tickSize": -6, "labels": false, "title": null,
                              "values": [{"year":2007,"month":1,"date":1,"utc":true},{"year":2007,"month":1,"date":16,"utc":true},{"year":2007,"month":2,"date":1,"utc":true},{"year":2007,"month":2,"date":15,"utc":true},{"year":2007,"month":3,"date":1,"utc":true},{"year":2007,"month":3,"date":16,"utc":true},{"year":2007,"month":4,"date":1,"utc":true},{"year":2007,"month":4,"date":16,"utc":true},{"year":2007,"month":5,"date":1,"utc":true},{"year":2007,"month":5,"date":16,"utc":true},{"year":2007,"month":6,"date":1,"utc":true},{"year":2007,"month":6,"date":16,"utc":true},{"year":2007,"month":7,"date":1,"utc":true},{"year":2007,"month":7,"date":16,"utc":true},{"year":2007,"month":8,"date":1,"utc":true},{"year":2007,"month":8,"date":16,"utc":true},{"year":2007,"month":9,"date":1,"utc":true},{"year":2007,"month":9,"date":16,"utc":true},{"year":2007,"month":10,"date":1,"utc":true},{"year":2007,"month":10,"date":16,"utc":true},{"year":2007,"month":11,"date":1,"utc":true}]}},
               "y": {"field": "v", "type": "quantitative",
                     "scale": {"domain": [4.905, 7.095], "nice": false, "zero": false},
                     "axis": {"orient": "left", "values": [5, 5.5, 6, 6.5, 7], "tickSize": -5, "labelPadding": 11, "title": null, "labelExpr": "format(datum.value,'.1f')"}},
               "detail": {"field": "s", "type": "nominal"}
             }},
            {"data": {"name": "obs"}, "transform": [{"filter": "datum.p=='pH07'"}],
             "mark": {"type": "point", "shape": "circle", "filled": false, "color": "black", "size": 18, "strokeWidth": 1, "opacity": 1},
             "encoding": {
               "x": {"field": "d", "type": "temporal",
                     "axis": {"orient": "top", "tickSize": -6, "labels": false, "title": null,
                              "values": [{"year":2007,"month":1,"date":1,"utc":true},{"year":2007,"month":1,"date":16,"utc":true},{"year":2007,"month":2,"date":1,"utc":true},{"year":2007,"month":2,"date":15,"utc":true},{"year":2007,"month":3,"date":1,"utc":true},{"year":2007,"month":3,"date":16,"utc":true},{"year":2007,"month":4,"date":1,"utc":true},{"year":2007,"month":4,"date":16,"utc":true},{"year":2007,"month":5,"date":1,"utc":true},{"year":2007,"month":5,"date":16,"utc":true},{"year":2007,"month":6,"date":1,"utc":true},{"year":2007,"month":6,"date":16,"utc":true},{"year":2007,"month":7,"date":1,"utc":true},{"year":2007,"month":7,"date":16,"utc":true},{"year":2007,"month":8,"date":1,"utc":true},{"year":2007,"month":8,"date":16,"utc":true},{"year":2007,"month":9,"date":1,"utc":true},{"year":2007,"month":9,"date":16,"utc":true},{"year":2007,"month":10,"date":1,"utc":true},{"year":2007,"month":10,"date":16,"utc":true},{"year":2007,"month":11,"date":1,"utc":true}]}},
               "y": {"field": "v", "type": "quantitative",
                     "axis": {"orient": "right", "domain": false, "ticks": false, "labels": false, "title": null}}
             }},
            {"data": {"name": "notes"}, "transform": [{"filter": "datum.p=='pH07'"}],
             "mark": {"type": "text", "fontSize": 22, "align": "center", "baseline": "middle", "color": "black"},
             "encoding": {"x": {"field": "d", "type": "temporal", "axis": null}, "y": {"field": "v", "type": "quantitative", "axis": null}, "text": {"field": "t"}}}
          ]
        },
        {
          "width": 446, "height": 115,
          "layer": [
            {"data": {"name": "obs"}, "transform": [{"filter": "datum.p=='CO07'"}],
             "mark": {"type": "line", "color": "black", "strokeWidth": 1.1},
             "encoding": {
               "x": {"field": "d", "type": "temporal",
                     "scale": {"type": "utc", "nice": false, "domain": [{"year":2006,"month":12,"date":15,"utc":true},{"year":2007,"month":11,"date":12,"utc":true}]},
                     "axis": {"orient": "bottom", "tickSize": -6, "labels": false, "title": null,
                              "values": [{"year":2007,"month":1,"date":1,"utc":true},{"year":2007,"month":1,"date":16,"utc":true},{"year":2007,"month":2,"date":1,"utc":true},{"year":2007,"month":2,"date":15,"utc":true},{"year":2007,"month":3,"date":1,"utc":true},{"year":2007,"month":3,"date":16,"utc":true},{"year":2007,"month":4,"date":1,"utc":true},{"year":2007,"month":4,"date":16,"utc":true},{"year":2007,"month":5,"date":1,"utc":true},{"year":2007,"month":5,"date":16,"utc":true},{"year":2007,"month":6,"date":1,"utc":true},{"year":2007,"month":6,"date":16,"utc":true},{"year":2007,"month":7,"date":1,"utc":true},{"year":2007,"month":7,"date":16,"utc":true},{"year":2007,"month":8,"date":1,"utc":true},{"year":2007,"month":8,"date":16,"utc":true},{"year":2007,"month":9,"date":1,"utc":true},{"year":2007,"month":9,"date":16,"utc":true},{"year":2007,"month":10,"date":1,"utc":true},{"year":2007,"month":10,"date":16,"utc":true},{"year":2007,"month":11,"date":1,"utc":true}]}},
               "y": {"field": "v", "type": "quantitative",
                     "scale": {"domain": [-14.3, 314.3], "nice": false, "zero": false},
                     "axis": {"orient": "left", "values": [0, 75, 150, 225, 300], "tickSize": -5, "labelPadding": 11, "title": null, "labelExpr": "format(datum.value,'.1f')"}},
               "detail": {"field": "s", "type": "nominal"}
             }},
            {"data": {"name": "obs"}, "transform": [{"filter": "datum.p=='CO07'"}],
             "mark": {"type": "point", "shape": "circle", "filled": false, "color": "black", "size": 18, "strokeWidth": 1, "opacity": 1},
             "encoding": {
               "x": {"field": "d", "type": "temporal",
                     "axis": {"orient": "top", "tickSize": -6, "labels": false, "title": null,
                              "values": [{"year":2007,"month":1,"date":1,"utc":true},{"year":2007,"month":1,"date":16,"utc":true},{"year":2007,"month":2,"date":1,"utc":true},{"year":2007,"month":2,"date":15,"utc":true},{"year":2007,"month":3,"date":1,"utc":true},{"year":2007,"month":3,"date":16,"utc":true},{"year":2007,"month":4,"date":1,"utc":true},{"year":2007,"month":4,"date":16,"utc":true},{"year":2007,"month":5,"date":1,"utc":true},{"year":2007,"month":5,"date":16,"utc":true},{"year":2007,"month":6,"date":1,"utc":true},{"year":2007,"month":6,"date":16,"utc":true},{"year":2007,"month":7,"date":1,"utc":true},{"year":2007,"month":7,"date":16,"utc":true},{"year":2007,"month":8,"date":1,"utc":true},{"year":2007,"month":8,"date":16,"utc":true},{"year":2007,"month":9,"date":1,"utc":true},{"year":2007,"month":9,"date":16,"utc":true},{"year":2007,"month":10,"date":1,"utc":true},{"year":2007,"month":10,"date":16,"utc":true},{"year":2007,"month":11,"date":1,"utc":true}]}},
               "y": {"field": "v", "type": "quantitative",
                     "axis": {"orient": "right", "domain": false, "ticks": false, "labels": false, "title": null}}
             }},
            {"data": {"name": "notes"}, "transform": [{"filter": "datum.p=='CO07'"}],
             "mark": {"type": "text", "fontSize": 22, "align": "center", "baseline": "middle", "color": "black"},
             "encoding": {"x": {"field": "d", "type": "temporal", "axis": null}, "y": {"field": "v", "type": "quantitative", "axis": null}, "text": {"field": "t"}}}
          ]
        },
        {
          "width": 446, "height": 115,
          "layer": [
            {"data": {"name": "obs"}, "transform": [{"filter": "datum.p=='SI07'"}],
             "mark": {"type": "line", "color": "black", "strokeWidth": 1.1},
             "encoding": {
               "x": {"field": "d", "type": "temporal",
                     "scale": {"type": "utc", "nice": false, "domain": [{"year":2006,"month":12,"date":15,"utc":true},{"year":2007,"month":11,"date":12,"utc":true}]},
                     "axis": {"orient": "bottom", "tickSize": -6, "labelPadding": 17, "labelFontSize": 22,
                              "labelExpr": "utcdate(datum.value)==1?substring(utcFormat(datum.value,'%b'),0,1):'˙'",
                              "title": "Time (month,year)", "titleFontSize": 22, "titlePadding": 17,
                              "values": [{"year":2007,"month":1,"date":1,"utc":true},{"year":2007,"month":1,"date":16,"utc":true},{"year":2007,"month":2,"date":1,"utc":true},{"year":2007,"month":2,"date":15,"utc":true},{"year":2007,"month":3,"date":1,"utc":true},{"year":2007,"month":3,"date":16,"utc":true},{"year":2007,"month":4,"date":1,"utc":true},{"year":2007,"month":4,"date":16,"utc":true},{"year":2007,"month":5,"date":1,"utc":true},{"year":2007,"month":5,"date":16,"utc":true},{"year":2007,"month":6,"date":1,"utc":true},{"year":2007,"month":6,"date":16,"utc":true},{"year":2007,"month":7,"date":1,"utc":true},{"year":2007,"month":7,"date":16,"utc":true},{"year":2007,"month":8,"date":1,"utc":true},{"year":2007,"month":8,"date":16,"utc":true},{"year":2007,"month":9,"date":1,"utc":true},{"year":2007,"month":9,"date":16,"utc":true},{"year":2007,"month":10,"date":1,"utc":true},{"year":2007,"month":10,"date":16,"utc":true},{"year":2007,"month":11,"date":1,"utc":true}]}},
               "y": {"field": "v", "type": "quantitative",
                     "scale": {"domain": [-5.238, 0.238], "nice": false, "zero": false},
                     "axis": {"orient": "left", "values": [0, -1.25, -2.5, -3.75, -5], "tickSize": -5, "labelPadding": 11, "title": null,
                              "labelExpr": "datum.value==0?'0.0':datum.value==-1.25?'-1.3':datum.value==-2.5?'-2.5':datum.value==-3.75?'-3.7':'-5.0'"}},
               "detail": {"field": "s", "type": "nominal"}
             }},
            {"data": {"name": "obs"}, "transform": [{"filter": "datum.p=='SI07'"}],
             "mark": {"type": "point", "shape": "circle", "filled": false, "color": "black", "size": 18, "strokeWidth": 1, "opacity": 1},
             "encoding": {
               "x": {"field": "d", "type": "temporal",
                     "axis": {"orient": "top", "tickSize": -6, "labels": false, "title": null,
                              "values": [{"year":2007,"month":1,"date":1,"utc":true},{"year":2007,"month":1,"date":16,"utc":true},{"year":2007,"month":2,"date":1,"utc":true},{"year":2007,"month":2,"date":15,"utc":true},{"year":2007,"month":3,"date":1,"utc":true},{"year":2007,"month":3,"date":16,"utc":true},{"year":2007,"month":4,"date":1,"utc":true},{"year":2007,"month":4,"date":16,"utc":true},{"year":2007,"month":5,"date":1,"utc":true},{"year":2007,"month":5,"date":16,"utc":true},{"year":2007,"month":6,"date":1,"utc":true},{"year":2007,"month":6,"date":16,"utc":true},{"year":2007,"month":7,"date":1,"utc":true},{"year":2007,"month":7,"date":16,"utc":true},{"year":2007,"month":8,"date":1,"utc":true},{"year":2007,"month":8,"date":16,"utc":true},{"year":2007,"month":9,"date":1,"utc":true},{"year":2007,"month":9,"date":16,"utc":true},{"year":2007,"month":10,"date":1,"utc":true},{"year":2007,"month":10,"date":16,"utc":true},{"year":2007,"month":11,"date":1,"utc":true}]}},
               "y": {"field": "v", "type": "quantitative",
                     "axis": {"orient": "right", "domain": false, "ticks": false, "labels": false, "title": null}}
             }},
            {"data": {"name": "notes"}, "transform": [{"filter": "datum.p=='SI07'"}],
             "mark": {"type": "text", "fontSize": 22, "align": "right", "baseline": "alphabetic", "color": "black"},
             "encoding": {"x": {"field": "d", "type": "temporal", "axis": null}, "y": {"field": "v", "type": "quantitative", "axis": null}, "text": {"field": "t"}}},
            {"data": {"name": "notes"}, "transform": [{"filter": "datum.p=='SIsub07'"}],
             "mark": {"type": "text", "fontSize": 16, "align": "left", "baseline": "alphabetic", "color": "black"},
             "encoding": {"x": {"field": "d", "type": "temporal", "axis": null}, "y": {"field": "v", "type": "quantitative", "axis": null}, "text": {"field": "t"}}}
          ]
        }
      ]
    }
  ],
  "config": {
    "font": "Liberation Sans",
    "view": {"stroke": null},
    "axis": {
      "grid": false, "domainColor": "black", "domainWidth": 1.5, "domainCap": "square",
      "tickColor": "black", "tickWidth": 1, "labelColor": "black", "labelFontSize": 19,
      "labelFont": "Liberation Sans", "titleFont": "Liberation Sans", "titleColor": "black", "titleFontWeight": "normal",
      "labelOverlap": false, "labelFlush": false, "labelBound": false
    },
    "title": {"fontWeight": "normal", "color": "black", "font": "Liberation Sans"}
  }
}
